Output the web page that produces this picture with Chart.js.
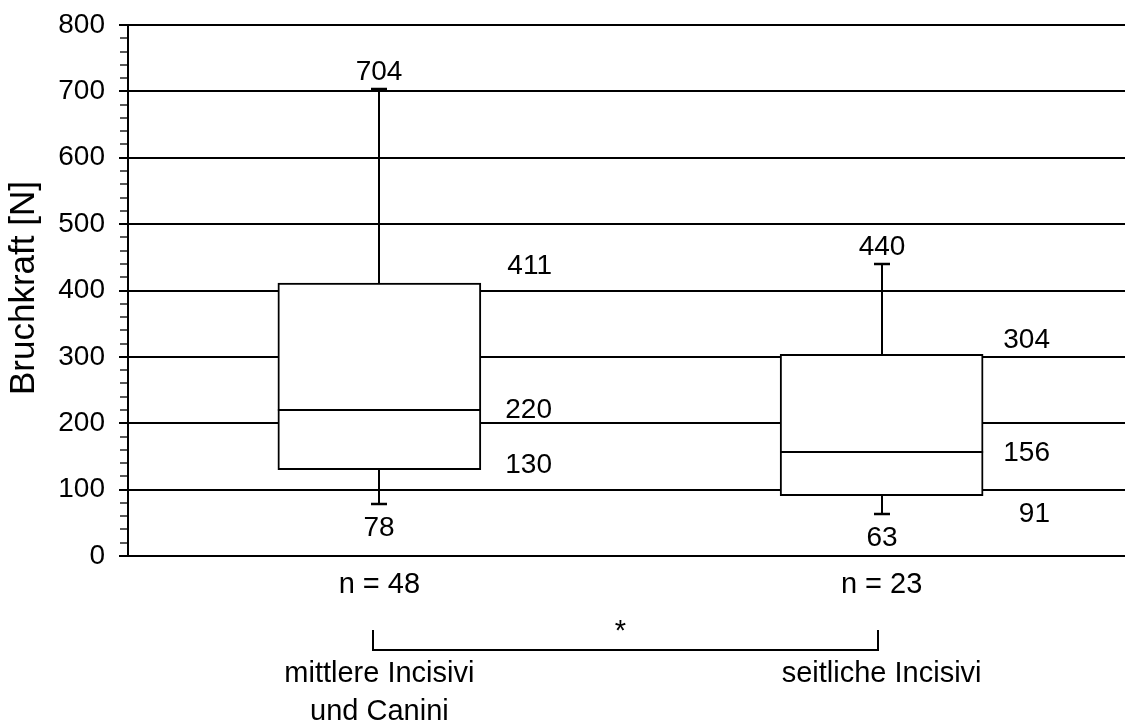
<!DOCTYPE html>
<html>
<head>
<meta charset="utf-8">
<script src="https://cdn.jsdelivr.net/npm/chart.js@4.4.1/dist/chart.umd.min.js"></script>
<style>
  html, body { margin: 0; padding: 0; background: #ffffff; }
  canvas { display: block; }
</style>
</head>
<body>
<canvas id="chart" width="1125" height="722"></canvas>
<script>
// Fracture force of incisors: box plot summary per tooth group
const groupLines    = [['mittlere Incisivi', 'und Canini'], ['seitliche Incisivi']];
const sampleSizes   = [48, 23];
const minimum       = [78, 63];
const lowerQuartile = [130, 91];
const median        = [220, 156];
const upperQuartile = [411, 304];
const maximum       = [704, 440];
const significance  = '*';

const yMin = 0;
const yMax = 800;
const majorStep = 100;
const minorStep = 20;
const yTitle = 'Bruchkraft [N]';

// Label placement (pixels, relative to the value position)
const sideLabelDx   = [173, 168];
const upperLabelDy  = [-9, -6.5];
const medianLabelDy = [7.5, 8.6];
const lowerLabelDy  = [3, 26.4];
const extremeDy     = { max: -9, min: 32 };

const FONT = '"Liberation Sans", Arial, Helvetica, sans-serif';
Chart.defaults.font.family = FONT;
Chart.defaults.color = '#000';

const boxData = groupLines.map((_, i) => ({ x: i, y: [lowerQuartile[i], upperQuartile[i]] }));

function crisp(v) { return Math.round(v); }

// Minor tick marks on the value axis (shorter than the major ones) and the axis title
const valueAxisExtras = {
  id: 'valueAxisExtras',
  afterDraw(chart) {
    const y = chart.scales.y;
    const ctx = chart.ctx;
    const x0 = y.right - 1;
    ctx.save();
    ctx.strokeStyle = '#222';
    ctx.lineWidth = 1.5;
    y.ticks.forEach(t => {
      if (t.value % majorStep === 0) return;
      const py = crisp(y.getPixelForValue(t.value));
      ctx.beginPath();
      ctx.moveTo(x0, py);
      ctx.lineTo(x0 - 7, py);
      ctx.stroke();
    });

    ctx.translate(24, 288);
    ctx.rotate(-Math.PI / 2);
    ctx.fillStyle = '#000';
    ctx.font = '35px ' + FONT;
    ctx.textAlign = 'center';
    ctx.textBaseline = 'middle';
    ctx.fillText(yTitle, 0, 0);
    ctx.restore();
  }
};

// Median, whiskers with caps and the value labels of each box
const boxDetails = {
  id: 'boxDetails',
  afterDatasetsDraw(chart) {
    const { ctx, scales: { x, y } } = chart;
    const bars = chart.getDatasetMeta(0).data;
    ctx.save();
    ctx.strokeStyle = '#000';
    ctx.fillStyle = '#000';
    groupLines.forEach((_, i) => {
      const bar = bars[i];
      const cx = crisp(x.getPixelForValue(i));
      const half = bar.width / 2;
      const yMed = crisp(y.getPixelForValue(median[i]));
      const yQ1 = y.getPixelForValue(lowerQuartile[i]);
      const yQ3 = y.getPixelForValue(upperQuartile[i]);
      const yLo = crisp(y.getPixelForValue(minimum[i]));
      const yHi = crisp(y.getPixelForValue(maximum[i]));

      ctx.lineWidth = 2;
      ctx.beginPath();
      ctx.moveTo(bar.x - half, yMed);
      ctx.lineTo(bar.x + half, yMed);
      // whiskers
      ctx.moveTo(cx, yQ3);
      ctx.lineTo(cx, yHi);
      ctx.moveTo(cx, yQ1);
      ctx.lineTo(cx, yLo);
      ctx.stroke();

      ctx.lineWidth = 2.5;
      ctx.beginPath();
      ctx.moveTo(cx - 8, yHi);
      ctx.lineTo(cx + 8, yHi);
      ctx.moveTo(cx - 8, yLo);
      ctx.lineTo(cx + 8, yLo);
      ctx.stroke();

      ctx.font = '28px ' + FONT;
      ctx.textBaseline = 'alphabetic';
      ctx.textAlign = 'center';
      ctx.fillText(String(maximum[i]), cx, yHi + extremeDy.max);
      ctx.fillText(String(minimum[i]), cx, yLo + extremeDy.min);

      ctx.textAlign = 'right';
      const sx = cx + sideLabelDx[i];
      ctx.fillText(String(upperQuartile[i]), sx, yQ3 + upperLabelDy[i]);
      ctx.fillText(String(median[i]), sx, yMed + medianLabelDy[i]);
      ctx.fillText(String(lowerQuartile[i]), sx, yQ1 + lowerLabelDy[i]);
    });
    ctx.restore();
  }
};

// Sample sizes, group names and the significance bracket below the plot
const groupAnnotations = {
  id: 'groupAnnotations',
  afterDraw(chart) {
    const { ctx, scales: { x } } = chart;
    const centers = groupLines.map((_, i) => x.getPixelForValue(i));
    ctx.save();
    ctx.fillStyle = '#000';
    ctx.strokeStyle = '#000';
    ctx.textAlign = 'center';
    ctx.textBaseline = 'alphabetic';

    ctx.font = '29px ' + FONT;
    centers.forEach((cx, i) => ctx.fillText('n = ' + sampleSizes[i], cx, 593));

    ctx.font = '29px ' + FONT;
    centers.forEach((cx, i) => {
      groupLines[i].forEach((line, k) => ctx.fillText(line, cx, 682 + k * 38));
    });

    const bl = Math.round(centers[0] - 6);
    const br = Math.round(centers[1] - 4);
    ctx.lineWidth = 2;
    ctx.beginPath();
    ctx.moveTo(bl, 630);
    ctx.lineTo(bl, 650);
    ctx.lineTo(br, 650);
    ctx.lineTo(br, 630);
    ctx.stroke();

    ctx.font = '29px ' + FONT;
    ctx.fillText(significance, (bl + br) / 2 - 5, 640);
    ctx.restore();
  }
};

new Chart(document.getElementById('chart'), {
  type: 'bar',
  data: {
    datasets: [{
      data: boxData,
      backgroundColor: '#ffffff',
      borderColor: '#000000',
      borderWidth: 2,
      borderSkipped: false,
      barThickness: 203
    }]
  },
  options: {
    responsive: false,
    animation: false,
    events: [],
    layout: { padding: { left: 0, top: 25, right: 0, bottom: 166 } },
    plugins: {
      legend: { display: false },
      tooltip: { enabled: false }
    },
    scales: {
      x: {
        type: 'linear',
        display: false,
        offset: false,
        grid: { offset: false },
        min: -0.5005,
        max: 1.4846
      },
      y: {
        min: yMin,
        max: yMax,
        afterFit(scale) {
          scale.width = 128;
          scale.paddingTop = 0;
          scale.paddingBottom = 0;
        },
        border: { display: true, color: '#000', width: 2 },
        grid: {
          color: c => (c.tick && c.tick.value % majorStep === 0) ? '#000' : 'rgba(0,0,0,0)',
          lineWidth: 2,
          tickColor: c => (c.tick && c.tick.value % majorStep === 0) ? '#000' : 'rgba(0,0,0,0)',
          tickWidth: 2,
          tickLength: 9
        },
        ticks: {
          stepSize: minorStep,
          autoSkip: false,
          padding: 14,
          color: '#000',
          font: { size: 28 },
          callback: v => (v % majorStep === 0 ? String(v) : '')
        }
      }
    }
  },
  plugins: [valueAxisExtras, boxDetails, groupAnnotations]
});
</script>
</body>
</html>
